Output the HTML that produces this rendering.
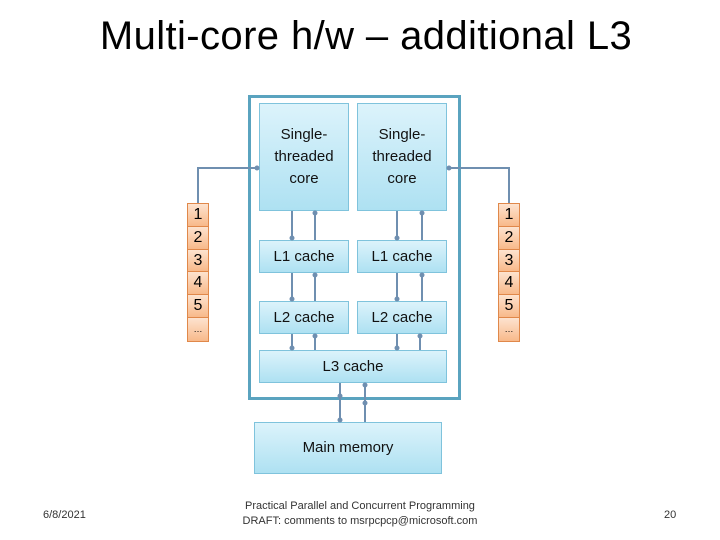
<!DOCTYPE html>
<html><head><style>
body{margin:0;width:720px;height:540px;background:#fff;position:relative;font-family:"Liberation Sans","DejaVu Sans",sans-serif;overflow:hidden}
.t{position:absolute;left:0;width:720px;top:14px;font-size:40px;letter-spacing:0.4px;text-align:center;color:#000;padding-left:12px;box-sizing:border-box}
.b{position:absolute;box-sizing:border-box;border:1px solid #7fc3dc;background:linear-gradient(#dcf3fb,#aee1f2);display:flex;align-items:center;justify-content:center;text-align:center;font-size:15px;line-height:22px;color:#111}
.s{position:absolute;width:22px;box-sizing:border-box;border:1px solid #e0884a}
.s div{height:22.8px;box-sizing:border-box;border-bottom:1px solid #e0884a;background:linear-gradient(#fde3cf,#f8b98a);text-align:center;font-size:16px;line-height:22px}
.s div:last-child{border:none;font-size:9px}
.f{position:absolute;font-size:11px;color:#333}
</style></head><body>
<div class="t">Multi-core h/w – additional L3</div>
<div style="position:absolute;left:248px;top:95px;width:213px;height:305px;box-sizing:border-box;border:3px solid #5aa3bf"></div>
<div class="b" style="left:259px;top:103px;width:90px;height:108px">Single-<br>threaded<br>core</div>
<div class="b" style="left:357px;top:103px;width:90px;height:108px">Single-<br>threaded<br>core</div>
<div class="b" style="left:259px;top:240px;width:90px;height:33px">L1 cache</div>
<div class="b" style="left:357px;top:240px;width:90px;height:33px">L1 cache</div>
<div class="b" style="left:259px;top:301px;width:90px;height:33px">L2 cache</div>
<div class="b" style="left:357px;top:301px;width:90px;height:33px">L2 cache</div>
<div class="b" style="left:259px;top:350px;width:188px;height:33px">L3 cache</div>
<div class="b" style="left:254px;top:422px;width:188px;height:52px">Main memory</div>
<div class="s" style="left:187px;top:203px"><div>1</div><div>2</div><div>3</div><div>4</div><div>5</div><div>…</div></div>
<div class="s" style="left:498px;top:203px"><div>1</div><div>2</div><div>3</div><div>4</div><div>5</div><div>…</div></div>
<svg width="720" height="540" style="position:absolute;left:0;top:0" fill="none" stroke="#6f8fb0" stroke-width="2">
<polyline points="198,203 198,168 257,168"/><polyline points="509,203 509,168 449,168"/>
<g>
<line x1="292" y1="211" x2="292" y2="238"/><line x1="315" y1="211" x2="315" y2="240"/>
<line x1="397" y1="211" x2="397" y2="238"/><line x1="422" y1="211" x2="422" y2="240"/>
<line x1="292" y1="273" x2="292" y2="299"/><line x1="315" y1="273" x2="315" y2="301"/>
<line x1="397" y1="273" x2="397" y2="299"/><line x1="422" y1="273" x2="422" y2="301"/>
<line x1="292" y1="334" x2="292" y2="348"/><line x1="315" y1="334" x2="315" y2="350"/>
<line x1="397" y1="334" x2="397" y2="348"/><line x1="420" y1="334" x2="420" y2="350"/>
<line x1="340" y1="383" x2="340" y2="420"/><line x1="365" y1="383" x2="365" y2="422"/>
</g>
<g fill="#6f8fb0" stroke="none">
<circle cx="292" cy="238" r="2.5"/><circle cx="315" cy="213" r="2.5"/><circle cx="397" cy="238" r="2.5"/><circle cx="422" cy="213" r="2.5"/>
<circle cx="292" cy="299" r="2.5"/><circle cx="315" cy="275" r="2.5"/><circle cx="397" cy="299" r="2.5"/><circle cx="422" cy="275" r="2.5"/>
<circle cx="292" cy="348" r="2.5"/><circle cx="315" cy="336" r="2.5"/><circle cx="397" cy="348" r="2.5"/><circle cx="420" cy="336" r="2.5"/>
<circle cx="340" cy="420" r="2.5"/><circle cx="365" cy="385" r="2.5"/><circle cx="340" cy="396" r="2.5"/><circle cx="365" cy="403" r="2.5"/>
<circle cx="257" cy="168" r="2.5"/><circle cx="449" cy="168" r="2.5"/>
</g></svg>
<div class="f" style="left:43px;top:509px">6/8/2021</div>
<div class="f" style="left:230px;top:499px;width:260px;text-align:center;line-height:15px">Practical Parallel and Concurrent Programming<br>DRAFT: comments to msrpcpcp@microsoft.com</div>
<div class="f" style="left:664px;top:509px">20</div>
</body></html>
